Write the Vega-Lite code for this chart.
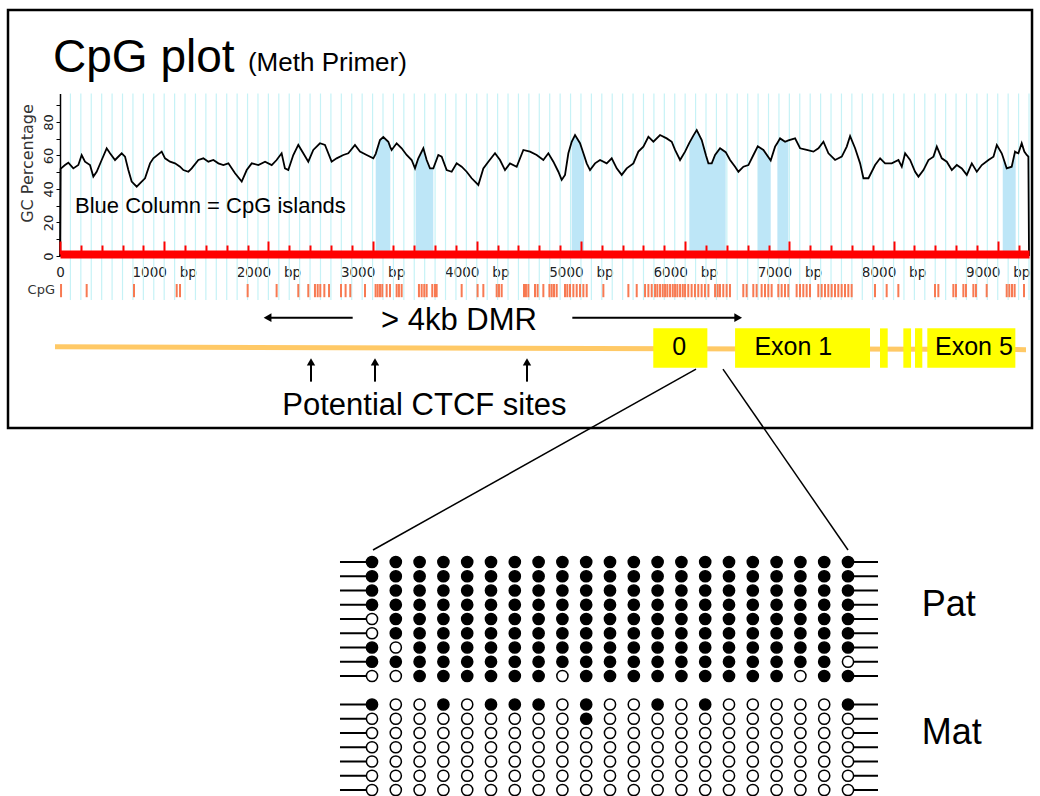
{
"$schema": "https://vega.github.io/schema/vega-lite/v6.json",
"width": 1040, "height": 796,
"autosize": {"type": "none"},
"padding": 0,
"background": "white",
"config": {"view": {"stroke": null}, "font": "Liberation Sans"},
"datasets": {
"gc": [{"bp":0,"gc":0},{"bp":5,"gc":52},{"bp":48,"gc":54.3},{"bp":80,"gc":55.7},{"bp":128,"gc":52.3},{"bp":176,"gc":54.3},{"bp":208,"gc":60.3},{"bp":240,"gc":56.3},{"bp":288,"gc":54.3},{"bp":320,"gc":47.4},{"bp":352,"gc":50.3},{"bp":400,"gc":57.3},{"bp":448,"gc":64.3},{"bp":480,"gc":61.3},{"bp":528,"gc":57.3},{"bp":592,"gc":61.3},{"bp":624,"gc":59.3},{"bp":656,"gc":51.3},{"bp":688,"gc":44.4},{"bp":736,"gc":41.4},{"bp":784,"gc":44.4},{"bp":816,"gc":46.4},{"bp":864,"gc":55.3},{"bp":896,"gc":58.3},{"bp":976,"gc":62.3},{"bp":1008,"gc":58.3},{"bp":1056,"gc":56.3},{"bp":1104,"gc":55.3},{"bp":1152,"gc":53.3},{"bp":1184,"gc":51.3},{"bp":1232,"gc":50.3},{"bp":1264,"gc":52.3},{"bp":1328,"gc":57.3},{"bp":1376,"gc":58.3},{"bp":1424,"gc":56.3},{"bp":1472,"gc":57.3},{"bp":1520,"gc":55.3},{"bp":1568,"gc":54.3},{"bp":1616,"gc":55.3},{"bp":1680,"gc":49.4},{"bp":1744,"gc":44.4},{"bp":1792,"gc":51.3},{"bp":1840,"gc":55.3},{"bp":1904,"gc":54.3},{"bp":1968,"gc":56.3},{"bp":2032,"gc":54.3},{"bp":2079,"gc":57.3},{"bp":2127,"gc":61.3},{"bp":2159,"gc":52.3},{"bp":2191,"gc":51.3},{"bp":2239,"gc":60.3},{"bp":2287,"gc":66.3},{"bp":2335,"gc":61.3},{"bp":2383,"gc":56.3},{"bp":2431,"gc":63.3},{"bp":2495,"gc":67.3},{"bp":2543,"gc":66.3},{"bp":2607,"gc":56.3},{"bp":2655,"gc":58.3},{"bp":2719,"gc":60.3},{"bp":2767,"gc":61.3},{"bp":2831,"gc":66.3},{"bp":2879,"gc":62.3},{"bp":2943,"gc":60.3},{"bp":3007,"gc":58.3},
{"bp":3030,"gc":61,"island":1},{"bp":3071,"gc":69.2,"island":1},{"bp":3103,"gc":71,"island":1},{"bp":3151,"gc":68.2,"island":1},{"bp":3170,"gc":65,"island":1},
{"bp":3183,"gc":63.3},{"bp":3231,"gc":67.3},{"bp":3279,"gc":64.3},{"bp":3327,"gc":60.3},{"bp":3375,"gc":57.3},{"bp":3407,"gc":52.3},
{"bp":3413,"gc":53.5,"island":2},{"bp":3439,"gc":58.3,"island":2},{"bp":3487,"gc":64.3,"island":2},{"bp":3519,"gc":57.3,"island":2},{"bp":3551,"gc":52.3,"island":2},{"bp":3583,"gc":52.3,"island":2},
{"bp":3631,"gc":60.3},{"bp":3663,"gc":59.3},{"bp":3711,"gc":51.3},{"bp":3759,"gc":50.3},{"bp":3807,"gc":55.3},{"bp":3855,"gc":53.3},{"bp":3903,"gc":50.3},{"bp":3951,"gc":46.4},{"bp":4015,"gc":42.4},{"bp":4063,"gc":52.3},{"bp":4111,"gc":56.3},{"bp":4175,"gc":61.3},{"bp":4223,"gc":57.3},{"bp":4271,"gc":51.3},{"bp":4319,"gc":55.3},{"bp":4383,"gc":53.3},{"bp":4447,"gc":63.3},{"bp":4511,"gc":62.3},{"bp":4575,"gc":60.3},{"bp":4639,"gc":57.3},{"bp":4687,"gc":61.3},{"bp":4735,"gc":56.3},{"bp":4783,"gc":50.3},{"bp":4815,"gc":45.4},{"bp":4847,"gc":48.4},{"bp":4879,"gc":61.3},
{"bp":4911,"gc":68.2,"island":3},{"bp":4943,"gc":72.2,"island":3},{"bp":4991,"gc":67.3,"island":3},{"bp":5029,"gc":60.3,"island":3},
{"bp":5055,"gc":55.3},{"bp":5087,"gc":51.3},{"bp":5135,"gc":55.3},{"bp":5183,"gc":57.3},{"bp":5247,"gc":55.3},{"bp":5295,"gc":58.3},{"bp":5343,"gc":52.3},{"bp":5391,"gc":48.4},{"bp":5439,"gc":52.3},{"bp":5503,"gc":55.3},{"bp":5551,"gc":62.3},{"bp":5599,"gc":65.3},{"bp":5647,"gc":71.2},{"bp":5695,"gc":68.2},{"bp":5759,"gc":72.2},{"bp":5823,"gc":70.2},{"bp":5871,"gc":68.2},{"bp":5903,"gc":63.3},{"bp":5951,"gc":57.3},{"bp":5999,"gc":62.3},
{"bp":6040,"gc":67.5,"island":4},{"bp":6080,"gc":72,"island":4},{"bp":6111,"gc":75.2,"island":4},{"bp":6159,"gc":69.2,"island":4},{"bp":6200,"gc":60,"island":4},{"bp":6223,"gc":55.3,"island":4},{"bp":6255,"gc":55.3,"island":4},{"bp":6287,"gc":60.3,"island":4},{"bp":6335,"gc":64.3,"island":4},{"bp":6389,"gc":62,"island":4},
{"bp":6431,"gc":57.3},{"bp":6479,"gc":53.3},{"bp":6511,"gc":50.3},{"bp":6559,"gc":53.3},{"bp":6607,"gc":54.3},{"bp":6655,"gc":60.3},
{"bp":6697,"gc":65.5,"island":5},{"bp":6751,"gc":63.3,"island":5},{"bp":6821,"gc":57,"island":5},
{"bp":6863,"gc":65.3},
{"bp":6885,"gc":67.5,"island":6},{"bp":6911,"gc":70.2,"island":6},{"bp":6959,"gc":68.2,"island":6},{"bp":6991,"gc":69,"island":6},
{"bp":7055,"gc":70.2},{"bp":7103,"gc":64.3},{"bp":7167,"gc":63.3},{"bp":7231,"gc":62.3},{"bp":7279,"gc":64.3},{"bp":7327,"gc":68.2},{"bp":7375,"gc":61.3},{"bp":7439,"gc":57.3},{"bp":7503,"gc":59.3},{"bp":7551,"gc":65.3},{"bp":7583,"gc":71.6},{"bp":7631,"gc":64.3},{"bp":7679,"gc":55.3},{"bp":7711,"gc":46.4},{"bp":7759,"gc":46.4},{"bp":7823,"gc":54.3},{"bp":7871,"gc":58.3},{"bp":7919,"gc":55.3},{"bp":7983,"gc":55.3},{"bp":8047,"gc":57.3},{"bp":8079,"gc":53.3},{"bp":8111,"gc":61.3},{"bp":8159,"gc":57.3},{"bp":8207,"gc":50.3},{"bp":8239,"gc":47.4},{"bp":8287,"gc":51.3},{"bp":8335,"gc":57.3},{"bp":8383,"gc":59.3},{"bp":8415,"gc":65.3},{"bp":8463,"gc":58.3},{"bp":8511,"gc":56.3},{"bp":8559,"gc":51.3},{"bp":8607,"gc":54.3},{"bp":8655,"gc":52.3},{"bp":8703,"gc":48.4},{"bp":8751,"gc":55.3},{"bp":8799,"gc":50.3},{"bp":8847,"gc":54.3},{"bp":8911,"gc":57.3},{"bp":8959,"gc":59.3},{"bp":8991,"gc":66.3},{"bp":9038,"gc":61.3},
{"bp":9048,"gc":59.5,"island":7},{"bp":9086,"gc":52.3,"island":7},{"bp":9134,"gc":53.3,"island":7},{"bp":9166,"gc":62.3,"island":7},{"bp":9172,"gc":62,"island":7},
{"bp":9198,"gc":61.3},{"bp":9230,"gc":67.3},{"bp":9255,"gc":62.3},{"bp":9278,"gc":60.3},{"bp":9294,"gc":59.3},{"bp":9300,"gc":0}],
"cpg": [{"bp":10},{"bp":256},{"bp":710},{"bp":1120},{"bp":1152},{"bp":1801},{"bp":2079},{"bp":2287},{"bp":2383},{"bp":2447},{"bp":2473},{"bp":2498},{"bp":2537},{"bp":2582},{"bp":2697},{"bp":2741},{"bp":2786},{"bp":2927},{"bp":3029},{"bp":3049},{"bp":3071},{"bp":3093},{"bp":3135},{"bp":3167},{"bp":3231},{"bp":3253},{"bp":3279},{"bp":3445},{"bp":3471},{"bp":3496},{"bp":3519},{"bp":3573},{"bp":3599},{"bp":3615},{"bp":3855},{"bp":4008},{"bp":4063},{"bp":4191},{"bp":4213},{"bp":4239},{"bp":4453},{"bp":4472},{"bp":4495},{"bp":4559},{"bp":4584},{"bp":4639},{"bp":4697},{"bp":4719},{"bp":4741},{"bp":4767},{"bp":4847},{"bp":4869},{"bp":4895},{"bp":4927},{"bp":4959},{"bp":4991},{"bp":5023},{"bp":5055},{"bp":5215},{"bp":5455},{"bp":5535},{"bp":5615},{"bp":5647},{"bp":5679},{"bp":5711},{"bp":5733},{"bp":5759},{"bp":5785},{"bp":5807},{"bp":5829},{"bp":5855},{"bp":5881},{"bp":5903},{"bp":5925},{"bp":5951},{"bp":5977},{"bp":5999},{"bp":6030},{"bp":6062},{"bp":6094},{"bp":6126},{"bp":6158},{"bp":6190},{"bp":6223},{"bp":6287},{"bp":6312},{"bp":6334},{"bp":6366},{"bp":6398},{"bp":6430},{"bp":6558},{"bp":6590},{"bp":6654},{"bp":6686},{"bp":6734},{"bp":6766},{"bp":6798},{"bp":6830},{"bp":6894},{"bp":6926},{"bp":6958},{"bp":6990},{"bp":7070},{"bp":7102},{"bp":7134},{"bp":7166},{"bp":7198},{"bp":7278},{"bp":7310},{"bp":7342},{"bp":7374},{"bp":7406},{"bp":7438},{"bp":7470},{"bp":7502},{"bp":7534},{"bp":7566},{"bp":7598},{"bp":7822},{"bp":7934},{"bp":8046},{"bp":8398},{"bp":8430},{"bp":8574},{"bp":8599},{"bp":8670},{"bp":8695},{"bp":8766},{"bp":8791},{"bp":8894},{"bp":9086},{"bp":9111},{"bp":9137},{"bp":9162},{"bp":9252}],
"gridlines": [{"bp":100},{"bp":200},{"bp":300},{"bp":400},{"bp":500},{"bp":600},{"bp":700},{"bp":800},{"bp":900},{"bp":1000},{"bp":1100},{"bp":1200},{"bp":1300},{"bp":1400},{"bp":1500},{"bp":1600},{"bp":1700},{"bp":1800},{"bp":1900},{"bp":2000},{"bp":2100},{"bp":2200},{"bp":2300},{"bp":2400},{"bp":2500},{"bp":2600},{"bp":2700},{"bp":2800},{"bp":2900},{"bp":3000},{"bp":3100},{"bp":3200},{"bp":3300},{"bp":3400},{"bp":3500},{"bp":3600},{"bp":3700},{"bp":3800},{"bp":3900},{"bp":4000},{"bp":4100},{"bp":4200},{"bp":4300},{"bp":4400},{"bp":4500},{"bp":4600},{"bp":4700},{"bp":4800},{"bp":4900},{"bp":5000},{"bp":5100},{"bp":5200},{"bp":5300},{"bp":5400},{"bp":5500},{"bp":5600},{"bp":5700},{"bp":5800},{"bp":5900},{"bp":6000},{"bp":6100},{"bp":6200},{"bp":6300},{"bp":6400},{"bp":6500},{"bp":6600},{"bp":6700},{"bp":6800},{"bp":6900},{"bp":7000},{"bp":7100},{"bp":7200},{"bp":7300},{"bp":7400},{"bp":7500},{"bp":7600},{"bp":7700},{"bp":7800},{"bp":7900},{"bp":8000},{"bp":8100},{"bp":8200},{"bp":8300},{"bp":8400},{"bp":8500},{"bp":8600},{"bp":8700},{"bp":8800},{"bp":8900},{"bp":9000},{"bp":9100},{"bp":9200},{"bp":9300}],
"gene": [{"feature":"exon 0","start":5694,"end":6213},{"feature":"exon 1","start":6479,"end":7774},{"feature":"exon 2","start":7870,"end":7944},{"feature":"exon 3","start":8094,"end":8168},{"feature":"exon 4","start":8206,"end":8276},{"feature":"exon 5","start":8324,"end":9169}],
"geneLabels": [{"label":"0","bp":5944},{"label":"Exon 1","bp":7038},{"label":"Exon 5","bp":8771}],
"ctcf": [{"site":"CTCF 1","bp":2409},{"site":"CTCF 2","bp":3023},{"site":"CTCF 3","bp":4482}],
"meth": [
{"clone":"P1","site":1,"meth":1},{"clone":"P1","site":2,"meth":1},{"clone":"P1","site":3,"meth":1},{"clone":"P1","site":4,"meth":1},{"clone":"P1","site":5,"meth":1},{"clone":"P1","site":6,"meth":1},{"clone":"P1","site":7,"meth":1},{"clone":"P1","site":8,"meth":1},{"clone":"P1","site":9,"meth":1},{"clone":"P1","site":10,"meth":1},{"clone":"P1","site":11,"meth":1},{"clone":"P1","site":12,"meth":1},{"clone":"P1","site":13,"meth":1},{"clone":"P1","site":14,"meth":1},{"clone":"P1","site":15,"meth":1},{"clone":"P1","site":16,"meth":1},{"clone":"P1","site":17,"meth":1},{"clone":"P1","site":18,"meth":1},{"clone":"P1","site":19,"meth":1},{"clone":"P1","site":20,"meth":1},{"clone":"P1","site":21,"meth":1},
{"clone":"P2","site":1,"meth":1},{"clone":"P2","site":2,"meth":1},{"clone":"P2","site":3,"meth":1},{"clone":"P2","site":4,"meth":1},{"clone":"P2","site":5,"meth":1},{"clone":"P2","site":6,"meth":1},{"clone":"P2","site":7,"meth":1},{"clone":"P2","site":8,"meth":1},{"clone":"P2","site":9,"meth":1},{"clone":"P2","site":10,"meth":1},{"clone":"P2","site":11,"meth":1},{"clone":"P2","site":12,"meth":1},{"clone":"P2","site":13,"meth":1},{"clone":"P2","site":14,"meth":1},{"clone":"P2","site":15,"meth":1},{"clone":"P2","site":16,"meth":1},{"clone":"P2","site":17,"meth":1},{"clone":"P2","site":18,"meth":1},{"clone":"P2","site":19,"meth":1},{"clone":"P2","site":20,"meth":1},{"clone":"P2","site":21,"meth":1},
{"clone":"P3","site":1,"meth":1},{"clone":"P3","site":2,"meth":1},{"clone":"P3","site":3,"meth":1},{"clone":"P3","site":4,"meth":1},{"clone":"P3","site":5,"meth":1},{"clone":"P3","site":6,"meth":1},{"clone":"P3","site":7,"meth":1},{"clone":"P3","site":8,"meth":1},{"clone":"P3","site":9,"meth":1},{"clone":"P3","site":10,"meth":1},{"clone":"P3","site":11,"meth":1},{"clone":"P3","site":12,"meth":1},{"clone":"P3","site":13,"meth":1},{"clone":"P3","site":14,"meth":1},{"clone":"P3","site":15,"meth":1},{"clone":"P3","site":16,"meth":1},{"clone":"P3","site":17,"meth":1},{"clone":"P3","site":18,"meth":1},{"clone":"P3","site":19,"meth":1},{"clone":"P3","site":20,"meth":1},{"clone":"P3","site":21,"meth":1},
{"clone":"P4","site":1,"meth":1},{"clone":"P4","site":2,"meth":1},{"clone":"P4","site":3,"meth":1},{"clone":"P4","site":4,"meth":1},{"clone":"P4","site":5,"meth":1},{"clone":"P4","site":6,"meth":1},{"clone":"P4","site":7,"meth":1},{"clone":"P4","site":8,"meth":1},{"clone":"P4","site":9,"meth":1},{"clone":"P4","site":10,"meth":1},{"clone":"P4","site":11,"meth":1},{"clone":"P4","site":12,"meth":1},{"clone":"P4","site":13,"meth":1},{"clone":"P4","site":14,"meth":1},{"clone":"P4","site":15,"meth":1},{"clone":"P4","site":16,"meth":1},{"clone":"P4","site":17,"meth":1},{"clone":"P4","site":18,"meth":1},{"clone":"P4","site":19,"meth":1},{"clone":"P4","site":20,"meth":1},{"clone":"P4","site":21,"meth":1},
{"clone":"P5","site":1,"meth":0},{"clone":"P5","site":2,"meth":1},{"clone":"P5","site":3,"meth":1},{"clone":"P5","site":4,"meth":1},{"clone":"P5","site":5,"meth":1},{"clone":"P5","site":6,"meth":1},{"clone":"P5","site":7,"meth":1},{"clone":"P5","site":8,"meth":1},{"clone":"P5","site":9,"meth":1},{"clone":"P5","site":10,"meth":1},{"clone":"P5","site":11,"meth":1},{"clone":"P5","site":12,"meth":1},{"clone":"P5","site":13,"meth":1},{"clone":"P5","site":14,"meth":1},{"clone":"P5","site":15,"meth":1},{"clone":"P5","site":16,"meth":1},{"clone":"P5","site":17,"meth":1},{"clone":"P5","site":18,"meth":1},{"clone":"P5","site":19,"meth":1},{"clone":"P5","site":20,"meth":1},{"clone":"P5","site":21,"meth":1},
{"clone":"P6","site":1,"meth":0},{"clone":"P6","site":2,"meth":1},{"clone":"P6","site":3,"meth":1},{"clone":"P6","site":4,"meth":1},{"clone":"P6","site":5,"meth":1},{"clone":"P6","site":6,"meth":1},{"clone":"P6","site":7,"meth":1},{"clone":"P6","site":8,"meth":1},{"clone":"P6","site":9,"meth":1},{"clone":"P6","site":10,"meth":1},{"clone":"P6","site":11,"meth":1},{"clone":"P6","site":12,"meth":1},{"clone":"P6","site":13,"meth":1},{"clone":"P6","site":14,"meth":1},{"clone":"P6","site":15,"meth":1},{"clone":"P6","site":16,"meth":1},{"clone":"P6","site":17,"meth":1},{"clone":"P6","site":18,"meth":1},{"clone":"P6","site":19,"meth":1},{"clone":"P6","site":20,"meth":1},{"clone":"P6","site":21,"meth":1},
{"clone":"P7","site":1,"meth":1},{"clone":"P7","site":2,"meth":0},{"clone":"P7","site":3,"meth":1},{"clone":"P7","site":4,"meth":1},{"clone":"P7","site":5,"meth":1},{"clone":"P7","site":6,"meth":1},{"clone":"P7","site":7,"meth":1},{"clone":"P7","site":8,"meth":1},{"clone":"P7","site":9,"meth":1},{"clone":"P7","site":10,"meth":1},{"clone":"P7","site":11,"meth":1},{"clone":"P7","site":12,"meth":1},{"clone":"P7","site":13,"meth":1},{"clone":"P7","site":14,"meth":1},{"clone":"P7","site":15,"meth":1},{"clone":"P7","site":16,"meth":1},{"clone":"P7","site":17,"meth":1},{"clone":"P7","site":18,"meth":1},{"clone":"P7","site":19,"meth":1},{"clone":"P7","site":20,"meth":1},{"clone":"P7","site":21,"meth":1},
{"clone":"P8","site":1,"meth":1},{"clone":"P8","site":2,"meth":1},{"clone":"P8","site":3,"meth":1},{"clone":"P8","site":4,"meth":1},{"clone":"P8","site":5,"meth":1},{"clone":"P8","site":6,"meth":1},{"clone":"P8","site":7,"meth":1},{"clone":"P8","site":8,"meth":1},{"clone":"P8","site":9,"meth":1},{"clone":"P8","site":10,"meth":1},{"clone":"P8","site":11,"meth":1},{"clone":"P8","site":12,"meth":1},{"clone":"P8","site":13,"meth":1},{"clone":"P8","site":14,"meth":1},{"clone":"P8","site":15,"meth":1},{"clone":"P8","site":16,"meth":1},{"clone":"P8","site":17,"meth":1},{"clone":"P8","site":18,"meth":1},{"clone":"P8","site":19,"meth":1},{"clone":"P8","site":20,"meth":1},{"clone":"P8","site":21,"meth":0},
{"clone":"P9","site":1,"meth":0},{"clone":"P9","site":2,"meth":0},{"clone":"P9","site":3,"meth":1},{"clone":"P9","site":4,"meth":1},{"clone":"P9","site":5,"meth":1},{"clone":"P9","site":6,"meth":1},{"clone":"P9","site":7,"meth":1},{"clone":"P9","site":8,"meth":1},{"clone":"P9","site":9,"meth":0},{"clone":"P9","site":10,"meth":1},{"clone":"P9","site":11,"meth":1},{"clone":"P9","site":12,"meth":1},{"clone":"P9","site":13,"meth":1},{"clone":"P9","site":14,"meth":1},{"clone":"P9","site":15,"meth":1},{"clone":"P9","site":16,"meth":1},{"clone":"P9","site":17,"meth":1},{"clone":"P9","site":18,"meth":1},{"clone":"P9","site":19,"meth":0},{"clone":"P9","site":20,"meth":1},{"clone":"P9","site":21,"meth":1},
{"clone":"M1","site":1,"meth":1},{"clone":"M1","site":2,"meth":0},{"clone":"M1","site":3,"meth":0},{"clone":"M1","site":4,"meth":1},{"clone":"M1","site":5,"meth":0},{"clone":"M1","site":6,"meth":1},{"clone":"M1","site":7,"meth":1},{"clone":"M1","site":8,"meth":1},{"clone":"M1","site":9,"meth":0},{"clone":"M1","site":10,"meth":1},{"clone":"M1","site":11,"meth":0},{"clone":"M1","site":12,"meth":0},{"clone":"M1","site":13,"meth":1},{"clone":"M1","site":14,"meth":0},{"clone":"M1","site":15,"meth":1},{"clone":"M1","site":16,"meth":0},{"clone":"M1","site":17,"meth":0},{"clone":"M1","site":18,"meth":0},{"clone":"M1","site":19,"meth":0},{"clone":"M1","site":20,"meth":0},{"clone":"M1","site":21,"meth":1},
{"clone":"M2","site":1,"meth":0},{"clone":"M2","site":2,"meth":0},{"clone":"M2","site":3,"meth":0},{"clone":"M2","site":4,"meth":0},{"clone":"M2","site":5,"meth":0},{"clone":"M2","site":6,"meth":0},{"clone":"M2","site":7,"meth":0},{"clone":"M2","site":8,"meth":0},{"clone":"M2","site":9,"meth":0},{"clone":"M2","site":10,"meth":1},{"clone":"M2","site":11,"meth":0},{"clone":"M2","site":12,"meth":0},{"clone":"M2","site":13,"meth":0},{"clone":"M2","site":14,"meth":0},{"clone":"M2","site":15,"meth":0},{"clone":"M2","site":16,"meth":0},{"clone":"M2","site":17,"meth":0},{"clone":"M2","site":18,"meth":0},{"clone":"M2","site":19,"meth":0},{"clone":"M2","site":20,"meth":0},{"clone":"M2","site":21,"meth":0},
{"clone":"M3","site":1,"meth":0},{"clone":"M3","site":2,"meth":0},{"clone":"M3","site":3,"meth":0},{"clone":"M3","site":4,"meth":0},{"clone":"M3","site":5,"meth":0},{"clone":"M3","site":6,"meth":0},{"clone":"M3","site":7,"meth":0},{"clone":"M3","site":8,"meth":0},{"clone":"M3","site":9,"meth":0},{"clone":"M3","site":10,"meth":0},{"clone":"M3","site":11,"meth":0},{"clone":"M3","site":12,"meth":0},{"clone":"M3","site":13,"meth":0},{"clone":"M3","site":14,"meth":0},{"clone":"M3","site":15,"meth":0},{"clone":"M3","site":16,"meth":0},{"clone":"M3","site":17,"meth":0},{"clone":"M3","site":18,"meth":0},{"clone":"M3","site":19,"meth":0},{"clone":"M3","site":20,"meth":0},{"clone":"M3","site":21,"meth":0},
{"clone":"M4","site":1,"meth":0},{"clone":"M4","site":2,"meth":0},{"clone":"M4","site":3,"meth":0},{"clone":"M4","site":4,"meth":0},{"clone":"M4","site":5,"meth":0},{"clone":"M4","site":6,"meth":0},{"clone":"M4","site":7,"meth":0},{"clone":"M4","site":8,"meth":0},{"clone":"M4","site":9,"meth":0},{"clone":"M4","site":10,"meth":0},{"clone":"M4","site":11,"meth":0},{"clone":"M4","site":12,"meth":0},{"clone":"M4","site":13,"meth":0},{"clone":"M4","site":14,"meth":0},{"clone":"M4","site":15,"meth":0},{"clone":"M4","site":16,"meth":0},{"clone":"M4","site":17,"meth":0},{"clone":"M4","site":18,"meth":0},{"clone":"M4","site":19,"meth":0},{"clone":"M4","site":20,"meth":0},{"clone":"M4","site":21,"meth":0},
{"clone":"M5","site":1,"meth":0},{"clone":"M5","site":2,"meth":0},{"clone":"M5","site":3,"meth":0},{"clone":"M5","site":4,"meth":0},{"clone":"M5","site":5,"meth":0},{"clone":"M5","site":6,"meth":0},{"clone":"M5","site":7,"meth":0},{"clone":"M5","site":8,"meth":0},{"clone":"M5","site":9,"meth":0},{"clone":"M5","site":10,"meth":0},{"clone":"M5","site":11,"meth":0},{"clone":"M5","site":12,"meth":0},{"clone":"M5","site":13,"meth":0},{"clone":"M5","site":14,"meth":0},{"clone":"M5","site":15,"meth":0},{"clone":"M5","site":16,"meth":0},{"clone":"M5","site":17,"meth":0},{"clone":"M5","site":18,"meth":0},{"clone":"M5","site":19,"meth":0},{"clone":"M5","site":20,"meth":0},{"clone":"M5","site":21,"meth":0},
{"clone":"M6","site":1,"meth":0},{"clone":"M6","site":2,"meth":0},{"clone":"M6","site":3,"meth":0},{"clone":"M6","site":4,"meth":0},{"clone":"M6","site":5,"meth":0},{"clone":"M6","site":6,"meth":0},{"clone":"M6","site":7,"meth":0},{"clone":"M6","site":8,"meth":0},{"clone":"M6","site":9,"meth":0},{"clone":"M6","site":10,"meth":0},{"clone":"M6","site":11,"meth":0},{"clone":"M6","site":12,"meth":0},{"clone":"M6","site":13,"meth":0},{"clone":"M6","site":14,"meth":0},{"clone":"M6","site":15,"meth":0},{"clone":"M6","site":16,"meth":0},{"clone":"M6","site":17,"meth":0},{"clone":"M6","site":18,"meth":0},{"clone":"M6","site":19,"meth":0},{"clone":"M6","site":20,"meth":0},{"clone":"M6","site":21,"meth":0},
{"clone":"M7","site":1,"meth":0},{"clone":"M7","site":2,"meth":0},{"clone":"M7","site":3,"meth":0},{"clone":"M7","site":4,"meth":0},{"clone":"M7","site":5,"meth":0},{"clone":"M7","site":6,"meth":0},{"clone":"M7","site":7,"meth":0},{"clone":"M7","site":8,"meth":0},{"clone":"M7","site":9,"meth":0},{"clone":"M7","site":10,"meth":0},{"clone":"M7","site":11,"meth":0},{"clone":"M7","site":12,"meth":0},{"clone":"M7","site":13,"meth":0},{"clone":"M7","site":14,"meth":0},{"clone":"M7","site":15,"meth":0},{"clone":"M7","site":16,"meth":0},{"clone":"M7","site":17,"meth":0},{"clone":"M7","site":18,"meth":0},{"clone":"M7","site":19,"meth":0},{"clone":"M7","site":20,"meth":0},{"clone":"M7","site":21,"meth":0}
]
},
"layer": [
{
"layer": [
{"data": {"name": "gridlines"},
 "mark": {"type": "rule", "color": "#C6F2F6", "strokeWidth": 1.2},
 "encoding": {
  "x": {"field": "bp", "type": "quantitative", "scale": {"domain": [0, 9300], "range": [60, 1029], "nice": false, "zero": false}, "axis": null},
  "y": {"datum": 97, "type": "quantitative", "scale": {"domain": [0, 97], "range": [256, 93.5], "nice": false, "zero": false}, "axis": null},
  "y2": {"datum": -26.3}}},
{"data": {"name": "gc"},
 "transform": [{"filter": "isValid(datum.island)"}],
 "mark": {"type": "area", "color": "#BDE6F7", "opacity": 1},
 "encoding": {
  "x": {"field": "bp", "type": "quantitative", "axis": {"orient": "bottom", "offset": -540, "domain": false, "ticks": false, "grid": false, "title": null, "values": [0,1000,2000,3000,4000,5000,6000,7000,8000,9000], "labelExpr": "datum.value == 0 ? '0' : datum.value + '\u00a0\u00a0\u00a0bp'", "labelFont": "DejaVu Sans", "labelFontSize": 13.5, "labelColor": "#222", "labelPadding": 9, "labelFlush": false, "labelOverlap": false}},
  "y": {"field": "gc", "type": "quantitative", "stack": null, "axis": null},
  "detail": {"field": "island", "type": "nominal"}}},
{"data": {"name": "cpg"},
 "mark": {"type": "rule", "color": "#F77A52", "strokeWidth": 2},
 "encoding": {
  "x": {"field": "bp", "type": "quantitative", "axis": null},
  "y": {"datum": -16.7, "type": "quantitative", "axis": null},
  "y2": {"datum": -24.6}}},
{"data": {"name": "gc"},
 "mark": {"type": "line", "color": "#000", "strokeWidth": 1.8},
 "encoding": {
  "x": {"field": "bp", "type": "quantitative", "axis": {"orient": "bottom", "offset": -542, "domain": true, "domainColor": "#FF0000", "domainWidth": 8, "ticks": true, "tickColor": "#FF0000", "tickWidth": 2, "tickSize": {"condition": {"test": "datum.value % 1000 === 0", "value": -13}, "value": -9}, "labels": false, "grid": false, "title": null, "zindex": 1, "values": [0,200,400,600,800,1000,1200,1400,1600,1800,2000,2200,2400,2600,2800,3000,3200,3400,3600,3800,4000,4200,4400,4600,4800,5000,5200,5400,5600,5800,6000,6200,6400,6600,6800,7000,7200,7400,7600,7800,8000,8200,8400,8600,8800,9000,9200]}},
  "y": {"field": "gc", "type": "quantitative", "axis": {"orient": "left", "offset": -60, "values": [0,10,20,30,40,50,60,70,80,90], "labelExpr": "datum.value % 20 == 0 && datum.value <= 80 ? datum.value + '' : ''", "labelAngle": -90, "labelAlign": "center", "labelBaseline": "alphabetic", "labelPadding": 4, "labelFont": "DejaVu Sans", "labelFontSize": 13, "labelColor": "#222", "labelOverlap": false, "tickSize": 4, "tickColor": "#000", "domainColor": "#000", "domainWidth": 1.5, "grid": false, "title": "GC Percentage", "titleFont": "DejaVu Sans", "titleFontSize": 16, "titleFontWeight": "normal", "titleColor": "#333", "titleX": -33, "titleY": 163, "titleAlign": "center", "titleBaseline": "middle"}}}},
{"data": {"values": [{}]},
 "mark": {"type": "rect", "fillOpacity": 0, "stroke": "#000", "strokeWidth": 2.5},
 "encoding": {
  "x": {"datum": -499, "type": "quantitative", "axis": null}, "x2": {"datum": 9329},
  "y": {"datum": 146.8, "type": "quantitative", "axis": null}, "y2": {"datum": -102.7}}},
{"data": {"values": [{}]},
 "mark": {"type": "text", "text": "CpG plot", "font": "Liberation Sans", "fontSize": 46, "align": "left", "baseline": "alphabetic", "color": "#000"},
 "encoding": {"x": {"datum": -67, "type": "quantitative", "axis": null}, "y": {"datum": 109.8, "type": "quantitative", "axis": null}}},
{"data": {"values": [{}]},
 "mark": {"type": "text", "text": "(Meth Primer)", "font": "Liberation Sans", "fontSize": 26, "align": "left", "baseline": "alphabetic", "color": "#000"},
 "encoding": {"x": {"datum": 1804, "type": "quantitative", "axis": null}, "y": {"datum": 110.5, "type": "quantitative", "axis": null}}},
{"data": {"values": [{}]},
 "mark": {"type": "text", "text": "Blue Column = CpG islands", "font": "Liberation Sans", "fontSize": 22, "align": "left", "baseline": "alphabetic", "color": "#000"},
 "encoding": {"x": {"datum": 144, "type": "quantitative", "axis": null}, "y": {"datum": 25.8, "type": "quantitative", "axis": null}}},
{"data": {"values": [{}]},
 "mark": {"type": "text", "text": "CpG", "font": "DejaVu Sans", "fontSize": 13, "align": "right", "baseline": "alphabetic", "color": "#333"},
 "encoding": {"x": {"datum": -48, "type": "quantitative", "axis": null}, "y": {"datum": -22.7, "type": "quantitative", "axis": null}}},
{"data": {"values": [{}]},
 "mark": {"type": "rule", "color": "#FFC966", "strokeWidth": 5},
 "encoding": {"x": {"datum": -48, "type": "quantitative", "axis": null}, "x2": {"datum": 9271}, "y": {"datum": -54.2, "type": "quantitative", "axis": null}, "y2": {"datum": -55.9}}},
{"data": {"name": "gene"},
 "mark": {"type": "rect", "color": "#FFFF00"},
 "encoding": {"x": {"field": "start", "type": "quantitative", "axis": null}, "x2": {"field": "end"}, "y": {"datum": -43.2, "type": "quantitative", "axis": null}, "y2": {"datum": -66.7}}},
{"data": {"name": "geneLabels"},
 "mark": {"type": "text", "font": "Liberation Sans", "fontSize": 25, "align": "center", "baseline": "alphabetic", "color": "#000"},
 "encoding": {"x": {"field": "bp", "type": "quantitative", "axis": null}, "y": {"datum": -59.1, "type": "quantitative", "axis": null}, "text": {"field": "label"}}},
{"data": {"values": [{}]},
 "mark": {"type": "text", "text": "> 4kb DMR", "font": "Liberation Sans", "fontSize": 31, "align": "center", "baseline": "alphabetic", "color": "#000"},
 "encoding": {"x": {"datum": 3829, "type": "quantitative", "axis": null}, "y": {"datum": -44.2, "type": "quantitative", "axis": null}}},
{"data": {"values": [{}]},
 "mark": {"type": "rule", "color": "#000", "strokeWidth": 2},
 "encoding": {"x": {"datum": 1996, "type": "quantitative", "axis": null}, "x2": {"datum": 2809}, "y": {"datum": -36.8, "type": "quantitative", "axis": null}}},
{"data": {"values": [{}]},
 "mark": {"type": "point", "shape": "triangle-left", "filled": true, "color": "#000", "size": 80, "opacity": 1},
 "encoding": {"x": {"datum": 1992, "type": "quantitative", "axis": null}, "y": {"datum": -36.8, "type": "quantitative", "axis": null}}},
{"data": {"values": [{}]},
 "mark": {"type": "rule", "color": "#000", "strokeWidth": 2},
 "encoding": {"x": {"datum": 4917, "type": "quantitative", "axis": null}, "x2": {"datum": 6505}, "y": {"datum": -36.8, "type": "quantitative", "axis": null}}},
{"data": {"values": [{}]},
 "mark": {"type": "point", "shape": "triangle-right", "filled": true, "color": "#000", "size": 80, "opacity": 1},
 "encoding": {"x": {"datum": 6509, "type": "quantitative", "axis": null}, "y": {"datum": -36.8, "type": "quantitative", "axis": null}}},
{"data": {"name": "ctcf"},
 "mark": {"type": "rule", "color": "#000", "strokeWidth": 2},
 "encoding": {"x": {"field": "bp", "type": "quantitative", "axis": null}, "y": {"datum": -75, "type": "quantitative", "axis": null}, "y2": {"datum": -63.3}}},
{"data": {"name": "ctcf"},
 "mark": {"type": "point", "shape": "triangle-up", "filled": true, "color": "#000", "size": 70, "opacity": 1},
 "encoding": {"x": {"field": "bp", "type": "quantitative", "axis": null}, "y": {"datum": -63.2, "type": "quantitative", "axis": null}}},
{"data": {"values": [{}]},
 "mark": {"type": "text", "text": "Potential CTCF sites", "font": "Liberation Sans", "fontSize": 31, "align": "center", "baseline": "alphabetic", "color": "#000"},
 "encoding": {"x": {"datum": 3498, "type": "quantitative", "axis": null}, "y": {"datum": -94.9, "type": "quantitative", "axis": null}}},
{"data": {"values": [{}]},
 "mark": {"type": "rule", "color": "#000", "strokeWidth": 1.5},
 "encoding": {"x": {"datum": 6104, "type": "quantitative", "axis": null}, "x2": {"datum": 3004}, "y": {"datum": -67.5, "type": "quantitative", "axis": null}, "y2": {"datum": -175.5}}},
{"data": {"values": [{}]},
 "mark": {"type": "rule", "color": "#000", "strokeWidth": 1.5},
 "encoding": {"x": {"datum": 6363, "type": "quantitative", "axis": null}, "x2": {"datum": 7563}, "y": {"datum": -67.5, "type": "quantitative", "axis": null}, "y2": {"datum": -175.5}}}
],
"resolve": {"axis": {"x": "independent", "y": "independent"}}
},
{
"data": {"name": "meth"},
"layer": [
{"transform": [{"filter": "datum.site == 1"}],
 "mark": {"type": "rule", "color": "#000", "strokeWidth": 2},
 "encoding": {
  "x": {"datum": -0.345, "type": "quantitative", "scale": {"domain": [1, 21], "range": [372, 848], "nice": false, "zero": false}, "axis": null},
  "x2": {"datum": 1},
  "y": {"field": "clone", "type": "ordinal", "scale": {"type": "point", "domain": ["P1","P2","P3","P4","P5","P6","P7","P8","P9","gap","M1","M2","M3","M4","M5","M6","M7"], "range": [562, 790], "padding": 0}, "axis": null}}},
{"transform": [{"filter": "datum.site == 21"}],
 "mark": {"type": "rule", "color": "#000", "strokeWidth": 2},
 "encoding": {
  "x": {"datum": 21, "type": "quantitative", "axis": null},
  "x2": {"datum": 22.26},
  "y": {"field": "clone", "type": "ordinal", "axis": null}}},
{"mark": {"type": "point", "shape": "circle", "filled": true, "size": 125, "stroke": "#000", "strokeWidth": 1.5, "opacity": 1},
 "encoding": {
  "x": {"field": "site", "type": "quantitative", "axis": null},
  "y": {"field": "clone", "type": "ordinal", "axis": null},
  "fill": {"field": "meth", "type": "nominal", "scale": {"domain": [0, 1], "range": ["#FFFFFF", "#000000"]}, "legend": null}}},
{"data": {"values": [{}]},
 "mark": {"type": "text", "text": "Pat", "font": "Liberation Sans", "fontSize": 36, "align": "left", "baseline": "middle", "color": "#000"},
 "encoding": {"x": {"datum": 24.1, "type": "quantitative", "axis": null}, "y": {"datum": "P4", "type": "ordinal", "axis": null}}},
{"data": {"values": [{}]},
 "mark": {"type": "text", "text": "Mat", "font": "Liberation Sans", "fontSize": 36, "align": "left", "baseline": "middle", "color": "#000"},
 "encoding": {"x": {"datum": 24.1, "type": "quantitative", "axis": null}, "y": {"datum": "M3", "type": "ordinal", "axis": null}}}
]
}
],
"resolve": {"scale": {"x": "independent", "y": "independent"}}
}
